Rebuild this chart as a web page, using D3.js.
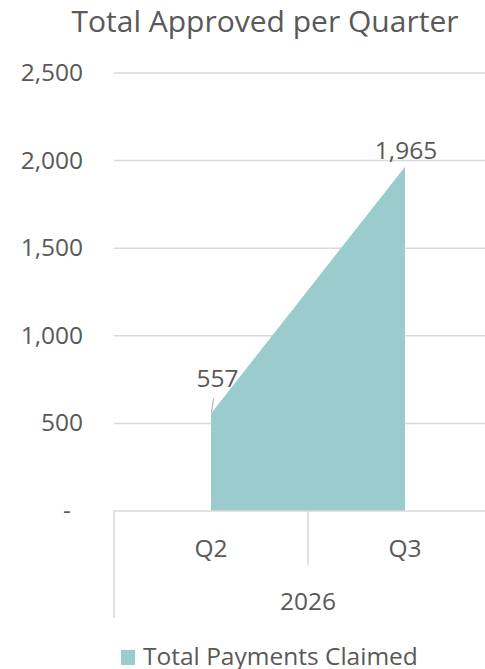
<!DOCTYPE html>
<html>
<head>
<meta charset="utf-8">
<script src="https://cdn.jsdelivr.net/npm/d3@7"></script>
<style>
  html, body { margin: 0; padding: 0; background: #fff; }
  svg { display: block; }
  text { font-family: "Open Sans", "Noto Sans", sans-serif; fill: #595959; }
</style>
</head>
<body>
<svg id="chart" width="485" height="669"></svg>
<script>
// Quarterly totals
const quarters = ["Q2", "Q3"];
const years = ["2026"];
const totals = [557, 1965];
const yTicks = [0, 500, 1000, 1500, 2000, 2500];
const seriesName = "Total Payments Claimed";
const chartTitle = "Total Approved per Quarter";

const svg = d3.select("#chart");
const W = 485, H = 669;
const plotLeft = 114, bandEnd = 502, plotTop = 73, plotBottom = 511;
const teal = "#9BCCCD", grid = "#D9D9D9";
const labelSize = "24.5px";

const x = d3.scaleBand().domain(quarters).range([plotLeft, bandEnd]).padding(0);
const y = d3.scaleLinear().domain([0, 2500]).range([plotBottom, plotTop]);
const fmt = d3.format(",");

// title
svg.append("text")
  .attr("x", 265).attr("y", 32)
  .attr("text-anchor", "middle")
  .style("font-size", "30px")
  .text(chartTitle);

// gridlines
svg.append("g").selectAll("line")
  .data(yTicks.filter(d => d > 0))
  .join("line")
  .attr("x1", plotLeft).attr("x2", W)
  .attr("y1", d => y(d)).attr("y2", d => y(d))
  .attr("stroke", grid).attr("stroke-width", 1.5);

// y tick labels
svg.append("g").selectAll("text")
  .data(yTicks)
  .join("text")
  .attr("x", d => d === 0 ? 71 : 83)
  .attr("y", d => y(d) + 8)
  .attr("text-anchor", "end")
  .style("font-size", labelSize)
  .text(d => d === 0 ? "-" : fmt(d));

// area
const pts = quarters.map((q, i) => ({ q, v: totals[i] }));
const area = d3.area()
  .x(d => x(d.q) + x.bandwidth() / 2)
  .y0(y(0))
  .y1(d => y(d.v));
svg.append("path")
  .datum(pts)
  .attr("d", area)
  .attr("fill", teal);

// category axis
svg.append("line")
  .attr("x1", plotLeft).attr("x2", W)
  .attr("y1", plotBottom).attr("y2", plotBottom)
  .attr("stroke", grid).attr("stroke-width", 1.5);
svg.append("line")
  .attr("x1", plotLeft).attr("x2", plotLeft)
  .attr("y1", plotBottom).attr("y2", 618)
  .attr("stroke", grid).attr("stroke-width", 1.5);
svg.append("g").selectAll("line")
  .data(quarters.slice(1))
  .join("line")
  .attr("x1", d => x(d)).attr("x2", d => x(d))
  .attr("y1", plotBottom).attr("y2", 565)
  .attr("stroke", grid).attr("stroke-width", 1.5);

svg.append("g").selectAll("text")
  .data(quarters)
  .join("text")
  .attr("x", d => x(d) + x.bandwidth() / 2)
  .attr("y", 557)
  .attr("text-anchor", "middle")
  .style("font-size", labelSize)
  .text(d => d);

svg.append("text")
  .attr("x", (plotLeft + bandEnd) / 2)
  .attr("y", 610)
  .attr("text-anchor", "middle")
  .style("font-size", labelSize)
  .text(years[0]);

// data labels
const cx0 = x(quarters[0]) + x.bandwidth() / 2;
svg.append("line")
  .attr("x1", cx0 + 0.5).attr("y1", y(totals[0]) - 1)
  .attr("x2", cx0 + 2.5).attr("y2", y(totals[0]) - 15)
  .attr("stroke", "#A6A6A6").attr("stroke-width", 1);
svg.append("text")
  .attr("x", cx0 + 6.5).attr("y", y(totals[0]) - 26)
  .attr("text-anchor", "middle")
  .style("font-size", labelSize)
  .text(fmt(totals[0]));

const cx1 = x(quarters[1]) + x.bandwidth() / 2;
svg.append("text")
  .attr("x", cx1 + 1).attr("y", y(totals[1]) - 8)
  .attr("text-anchor", "middle")
  .style("font-size", labelSize)
  .text(fmt(totals[1]));

// legend
svg.append("rect")
  .attr("x", 121).attr("y", 650)
  .attr("width", 14).attr("height", 15)
  .attr("fill", teal);
svg.append("text")
  .attr("x", 143).attr("y", 665)
  .style("font-size", labelSize)
  .text(seriesName);
</script>
</body>
</html>
